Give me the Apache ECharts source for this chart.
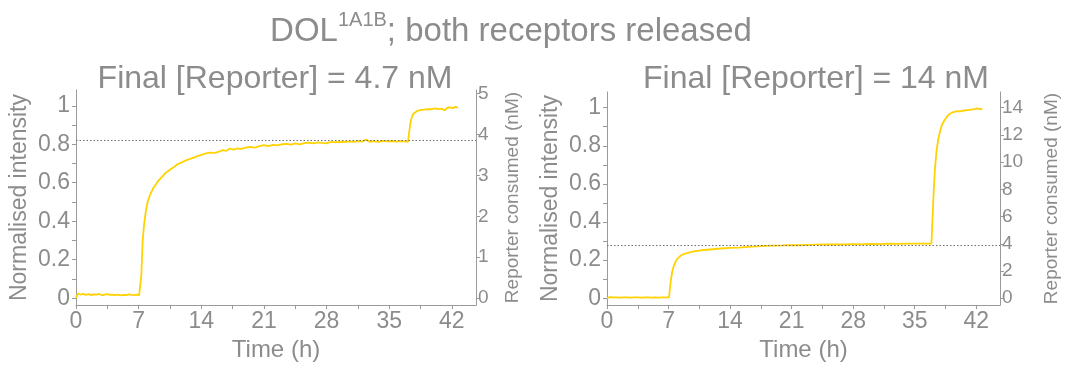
<!DOCTYPE html>
<html>
<head>
<meta charset="utf-8">
<script src="https://cdn.jsdelivr.net/npm/echarts@6/dist/echarts.min.js"></script>
<style>
  html, body { margin: 0; padding: 0; background: #fff; }
  #chart { width: 1066px; height: 367px; }
</style>
</head>
<body>
<div id="chart"></div>
<script>
// left panel: final reporter 4.7 nM
var timeA = [0, 0.2, 0.5, 0.8, 1.1, 1.4, 1.7, 2.0, 2.3, 2.6, 2.9, 3.2, 3.5, 3.8, 4.1, 4.4, 4.7, 5.0, 5.3, 5.6, 5.9, 6.2, 6.5, 6.8, 7.05, 7.15,
  7.3, 7.45, 7.6, 7.8, 8.0, 8.3, 8.6, 8.9, 9.2, 9.5, 9.8, 10.1, 10.5, 10.9, 11.3, 11.7, 12.1, 12.5, 13.0, 13.5, 14.0, 14.5, 15.0, 15.5,
  16.0, 16.4, 16.8, 17.2, 17.6, 18.0, 18.5, 19.0, 19.5, 20.0, 20.5, 21.0, 21.5, 22.0, 22.5, 23.0, 23.5, 24.0, 24.5, 25.0, 25.5, 26.0,
  26.5, 27.0, 27.5, 28.0, 28.5, 29.0, 29.5, 30.0, 30.5, 31.0, 31.5, 32.0, 32.4, 32.8, 33.3, 33.8, 34.3, 34.8, 35.3, 35.8, 36.3, 36.8,
  37.1, 37.25, 37.4, 37.6, 37.8, 38.1, 38.5, 38.9, 39.3, 39.7, 40.1, 40.5, 40.9, 41.2, 41.5, 41.8, 42.1, 42.4, 42.7];
var intensityA = [0.0, 0.024, 0.019, 0.022, 0.017, 0.021, 0.016, 0.02, 0.018, 0.022, 0.015, 0.019, 0.021, 0.017, 0.018, 0.016, 0.019, 0.015, 0.017, 0.016, 0.02, 0.017, 0.016, 0.018, 0.015, 0.008,
  0.12, 0.3, 0.38, 0.45, 0.5, 0.54, 0.57, 0.59, 0.61, 0.625, 0.64, 0.655, 0.668, 0.68, 0.695, 0.703, 0.712, 0.72, 0.728, 0.737, 0.745, 0.752, 0.757, 0.755,
  0.762, 0.77, 0.766, 0.778, 0.772, 0.778, 0.776, 0.782, 0.786, 0.783, 0.79, 0.795, 0.79, 0.797, 0.794, 0.8, 0.802, 0.798, 0.805, 0.8, 0.806, 0.808,
  0.804, 0.81, 0.807, 0.805, 0.812, 0.81, 0.813, 0.811, 0.815, 0.812, 0.816, 0.814, 0.824, 0.813, 0.816, 0.812, 0.818, 0.815, 0.817, 0.814, 0.816, 0.815,
  0.813, 0.87, 0.92, 0.95, 0.963, 0.972, 0.978, 0.98, 0.983, 0.982, 0.986, 0.983, 0.985, 0.976, 0.99, 0.992, 0.988, 0.994, 0.99];

// right panel: final reporter 14 nM
var timeB = [0, 0.3, 0.7, 1.1, 1.5, 1.9, 2.3, 2.7, 3.1, 3.5, 3.9, 4.3, 4.7, 5.1, 5.5, 5.9, 6.3, 6.7, 7.05, 7.15,
  7.25, 7.4, 7.6, 7.8, 8.0, 8.3, 8.6, 9.0, 9.5, 10.0, 10.5, 11.0, 12.0, 13.0, 14.0, 15.0, 16.0, 17.0, 18.0, 19.0,
  20.0, 21.0, 22.0, 23.0, 24.0, 25.0, 26.0, 27.0, 28.0, 29.0, 30.0, 31.0, 32.0, 33.0, 34.0, 35.0, 36.0, 36.9, 37.05,
  37.15, 37.3, 37.5, 37.7, 37.9, 38.1, 38.4, 38.7, 39.0, 39.4, 39.8, 40.2, 40.6, 41.0, 41.4, 41.8, 42.1, 42.4, 42.7];
var intensityB = [0.0, 0.006, 0.004, 0.005, 0.003, 0.005, 0.004, 0.003, 0.005, 0.004, 0.003, 0.004, 0.005, 0.003, 0.004, 0.003, 0.004, 0.005, 0.004, 0.003,
  0.09, 0.135, 0.17, 0.192, 0.207, 0.22, 0.229, 0.236, 0.242, 0.247, 0.25, 0.253, 0.257, 0.261, 0.264, 0.266, 0.27, 0.272, 0.275, 0.276,
  0.277, 0.279, 0.278, 0.28, 0.281, 0.282, 0.283, 0.282, 0.284, 0.283, 0.285, 0.284, 0.286, 0.285, 0.286, 0.287, 0.286, 0.287, 0.29,
  0.55, 0.68, 0.78, 0.84, 0.88, 0.91, 0.935, 0.955, 0.968, 0.977, 0.982, 0.98, 0.985, 0.987, 0.989, 0.992, 0.996, 0.992, 0.994];

var plateauA = 0.816;
var plateauB = 0.285;

var timeTicks = [0, 7, 14, 21, 28, 35, 42];
var timeMinorTicks = [0, 3.5, 7, 10.5, 14, 17.5, 21, 24.5, 28, 31.5, 35, 38.5, 42];
var intensityTicks = [0, 0.2, 0.4, 0.6, 0.8, 1];
var intensityMinorTicks = [0, 0.1, 0.2, 0.3, 0.4, 0.5, 0.6, 0.7, 0.8, 0.9, 1];
var nMTicksA = [0, 1, 2, 3, 4, 5];
var nMTicksB = [0, 2, 4, 6, 8, 10, 12, 14];
var finalA = 4.7;
var finalB = 14;

var grey = '#8c8c8c';
var axisGrey = '#9a9a9a';
var font = '"Liberation Sans", Arial, Helvetica, sans-serif';
var yMin = -0.036, yMax = 1.082, tMax = 44.7;

function pairs(t, v) {
  return t.map(function (x, i) { return [x, v[i]]; });
}

function xAxisFor(gi) {
  return {
    type: 'value', gridIndex: gi, min: 0, max: tMax,
    name: 'Time (h)', nameLocation: 'middle', nameGap: 29,
    nameTextStyle: { color: grey, fontSize: 24, fontFamily: font },
    axisLine: { onZero: false, lineStyle: { color: axisGrey, width: 1 } },
    axisTick: { show: true, length: 4, customValues: timeMinorTicks, lineStyle: { color: axisGrey } },
    axisLabel: { customValues: timeTicks, color: grey, fontSize: 23, fontFamily: font, margin: 5 },
    splitLine: { show: false }
  };
}

function leftY(gi) {
  return {
    type: 'value', gridIndex: gi, min: yMin, max: yMax, position: 'left',
    name: 'Normalised intensity', nameLocation: 'middle', nameGap: 45,
    nameTextStyle: { color: grey, fontSize: 23, fontFamily: font },
    axisLine: { show: true, lineStyle: { color: axisGrey, width: 1 } },
    axisTick: { show: true, length: 4, customValues: intensityMinorTicks, lineStyle: { color: axisGrey } },
    axisLabel: { customValues: intensityTicks, color: grey, fontSize: 23, fontFamily: font, margin: 6 },
    splitLine: { show: false }
  };
}

function rightY(gi, factor, ticks, gap) {
  return {
    type: 'value', gridIndex: gi, min: yMin * factor, max: yMax * factor, position: 'right',
    name: 'Reporter consumed (nM)', nameLocation: 'middle', nameGap: gap,
    nameTextStyle: { color: grey, fontSize: 19, fontFamily: font },
    axisLine: { show: true, lineStyle: { color: axisGrey, width: 1 } },
    axisTick: { show: true, length: 4, customValues: ticks, lineStyle: { color: axisGrey } },
    axisLabel: { customValues: ticks, color: grey, fontSize: 19, fontFamily: font, margin: 2 },
    splitLine: { show: false }
  };
}

function traceSeries(xi, yi, data, plateau) {
  return {
    type: 'line', xAxisIndex: xi, yAxisIndex: yi, data: data,
    showSymbol: false, symbol: 'none', smooth: false,
    lineStyle: { color: '#FFD200', width: 1.8 },
    animation: false,
    markLine: {
      silent: true, symbol: 'none', label: { show: false },
      lineStyle: { color: '#6f6f6f', type: [1.5, 2], width: 1.2 },
      data: [{ yAxis: plateau }]
    }
  };
}

var chart = echarts.init(document.getElementById('chart'), null, { renderer: 'canvas' });
var option = {
  backgroundColor: '#fff',
  animation: false,
  title: [
    {
      text: '{a|DOL}{s|1A1B}{a|; both receptors released}',
      left: 506, top: 5, textAlign: 'center',
      textStyle: {
        rich: {
          a: { fontSize: 33, color: grey, fontWeight: 'normal', fontFamily: font, lineHeight: 38, verticalAlign: 'bottom' },
          s: { fontSize: 20, color: grey, fontWeight: 'normal', fontFamily: font, lineHeight: 38, verticalAlign: 'top', padding: [0, 0, 14, 0] }
        }
      }
    },
    {
      text: 'Final [Reporter] = ' + finalA + ' nM',
      left: 270, top: 58, textAlign: 'center',
      textStyle: { fontSize: 32, color: grey, fontWeight: 'normal', fontFamily: font }
    },
    {
      text: 'Final [Reporter] = ' + finalB + ' nM',
      left: 811, top: 58, textAlign: 'center',
      textStyle: { fontSize: 32, color: grey, fontWeight: 'normal', fontFamily: font }
    }
  ],
  grid: [
    { left: 76, top: 90, width: 400, height: 219 },
    { left: 607, top: 92, width: 393, height: 218 }
  ],
  xAxis: [xAxisFor(0), xAxisFor(1)],
  yAxis: [leftY(0), rightY(0, finalA, nMTicksA, 27), leftY(1), rightY(1, finalB, nMTicksB, 42)],
  series: [
    traceSeries(0, 0, pairs(timeA, intensityA), plateauA),
    traceSeries(1, 2, pairs(timeB, intensityB), plateauB)
  ]
};
chart.setOption(option);
</script>
</body>
</html>
